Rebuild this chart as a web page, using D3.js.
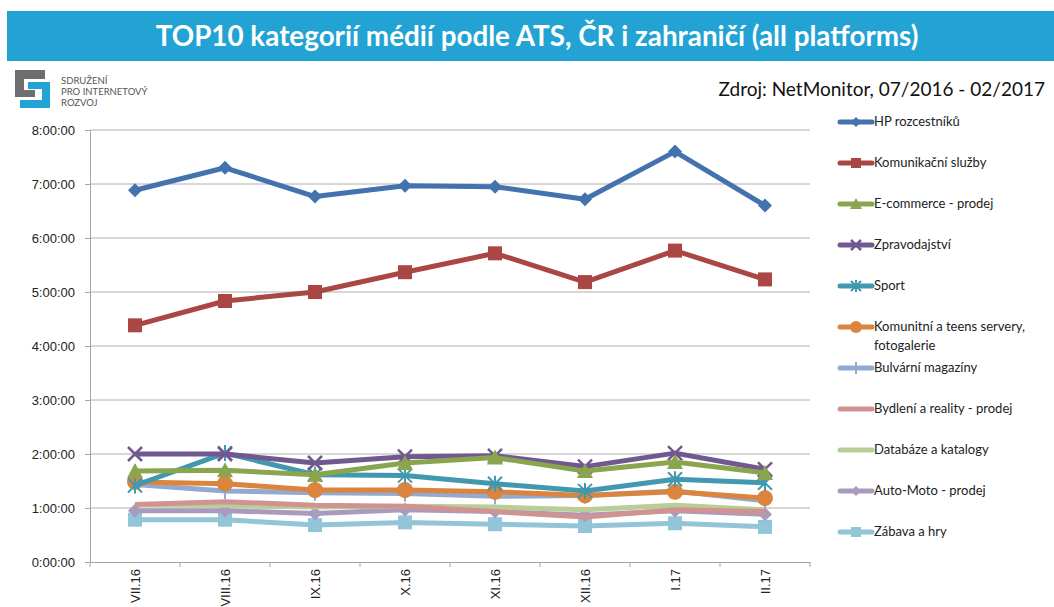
<!DOCTYPE html>
<html>
<head>
  <meta charset="utf-8">
  <title>TOP10 kategorií médií</title>
  <script src="https://d3js.org/d3.v7.min.js"></script>
  <style>
    body { margin: 0; background: #fff; }
    svg { display: block; }
  </style>
</head>
<body>
  <svg width="1054" height="607"></svg>
  <script>
    // data: minutes per month (ATS)
    const months = ["VII.16", "VIII.16", "IX.16", "X.16", "XI.16", "XII.16", "I.17", "II.17"];
    const hpRozcestniku = [413, 438, 406, 418, 417, 403, 456, 396];
    const komunikacni = [263, 290, 300, 322, 343, 311, 346, 314];
    const ecommerce = [101, 102, 97, 110, 116, 101, 111, 99];
    const zpravodajstvi = [120, 120, 110, 117, 118, 106, 121, 103];
    const sport = [85, 121, 97, 96, 87, 79, 92, 88];
    const komunitni = [89, 87, 80, 80, 78, 74, 78, 71];
    const bulvarni = [86, 79, 77, 76, 73, 74, 79, 68];
    const bydleni = [64, 67, 63, 62, 56, 50, 58, 56];
    const databaze = [64, 63, 61, 62, 61, 58, 63, 58];
    const autoMoto = [57, 57, 54, 58, 56, 52, 57, 53];
    const zabava = [47, 47, 41, 44, 42, 40, 43, 39];
    const yTicks = [0, 60, 120, 180, 240, 300, 360, 420, 480];

    const series = [
      { name: "HP rozcestníků", values: hpRozcestniku, color: "#4472AF", marker: "diamond" },
      { name: "Komunikační služby", values: komunikacni, color: "#AA4643", marker: "square" },
      { name: "E-commerce - prodej", values: ecommerce, color: "#89A54E", marker: "triangle" },
      { name: "Zpravodajství", values: zpravodajstvi, color: "#71588F", marker: "x" },
      { name: "Sport", values: sport, color: "#4198AF", marker: "star" },
      { name: "Komunitní a teens servery,|fotogalerie", values: komunitni, color: "#DB843D", marker: "circle" },
      { name: "Bulvární magazíny", values: bulvarni, color: "#93A9CF", marker: "plus" },
      { name: "Bydlení a reality - prodej", values: bydleni, color: "#D19392", marker: "none" },
      { name: "Databáze a katalogy", values: databaze, color: "#B9CD96", marker: "none" },
      { name: "Auto-Moto - prodej", values: autoMoto, color: "#A99BBD", marker: "diamond" },
      { name: "Zábava a hry", values: zabava, color: "#92C5D8", marker: "square" }
    ];

    const svg = d3.select("svg");
    const font = "Lato, 'Open Sans', sans-serif";

    // title bar
    svg.append("rect").attr("x", 7).attr("y", 11).attr("width", 1047).attr("height", 50).attr("fill", "#22A3D3");
    svg.append("text").attr("x", 537).attr("y", 46).attr("text-anchor", "middle")
      .attr("fill", "#fff").attr("font-family", font).attr("font-weight", "bold").attr("font-size", 27.8)
      .text("TOP10 kategorií médií podle ATS, ČR i zahraničí (all platforms)");

    // logo
    const logo = svg.append("g").attr("transform", "translate(15,70)");
    logo.append("path").attr("fill", "#6d6e70").attr("d", "M0,0 H30 V9 H9 V20 H20 V27 H0 Z");
    logo.append("path").attr("fill", "#22A3D3").attr("d", "M13,12 H35 V38 H5 V30 H27 V19 H13 Z");
    ["SDRUŽENÍ", "PRO INTERNETOVÝ", "ROZVOJ"].forEach((t, i) => {
      svg.append("text").attr("x", 61).attr("y", 84 + i * 11).attr("font-family", font)
        .attr("font-size", 9.5).attr("fill", "#555").text(t);
    });

    svg.append("text").attr("x", 1045).attr("y", 96).attr("text-anchor", "end")
      .attr("font-family", font).attr("font-size", 19).attr("fill", "#111")
      .text("Zdroj: NetMonitor, 07/2016 - 02/2017");

    // scales
    const x = d3.scaleBand().domain(months).range([90, 810]);
    const y = d3.scaleLinear().domain([0, 480]).range([562, 130]);
    const fmt = m => Math.floor(m / 60) + ":" + String(m % 60).padStart(2, "0") + ":00";

    // grid
    svg.append("g").selectAll("line").data(yTicks.slice(1)).join("line")
      .attr("x1", 90).attr("x2", 810).attr("y1", d => y(d)).attr("y2", d => y(d))
      .attr("stroke", "#b0b0b0").attr("stroke-width", 1);

    const yAxis = svg.append("g").attr("transform", "translate(90,0)")
      .call(d3.axisLeft(y).tickValues(yTicks).tickFormat(fmt).tickSize(5).tickPadding(10));
    yAxis.select(".domain").attr("stroke", "#a6a6a6");
    yAxis.selectAll(".tick line").attr("stroke", "#a6a6a6");
    yAxis.selectAll("text").attr("font-family", "'Liberation Sans', Arial, sans-serif")
      .attr("font-size", 13).attr("fill", "#222");

    const xAxis = svg.append("g").attr("transform", "translate(0,562)")
      .call(d3.axisBottom(x).tickSize(0).tickSizeOuter(0));
    xAxis.select(".domain").attr("stroke", "#a6a6a6");
    xAxis.selectAll(".tick text")
      .attr("font-family", "'Liberation Sans', Arial, sans-serif").attr("font-size", 13).attr("fill", "#222")
      .attr("transform", "rotate(-90)").attr("text-anchor", "end").attr("x", -7).attr("y", 0).attr("dy", "0.35em");
    // boundary ticks between categories
    svg.append("g").selectAll("line").data(months.concat(["end"])).join("line")
      .attr("x1", (d, i) => 90 + i * x.step()).attr("x2", (d, i) => 90 + i * x.step())
      .attr("y1", 562).attr("y2", 567).attr("stroke", "#a6a6a6");

    // markers
    function drawMarker(g, type, color, s) {
      if (type === "diamond") g.append("path").attr("d", `M0,${-s} L${s},0 L0,${s} L${-s},0 Z`).attr("fill", color);
      else if (type === "square") g.append("rect").attr("x", -s).attr("y", -s).attr("width", 2 * s).attr("height", 2 * s).attr("fill", color);
      else if (type === "triangle") g.append("path").attr("d", `M0,${-s - 1} L${s + 1},${s} L${-s - 1},${s} Z`).attr("fill", color);
      else if (type === "circle") g.append("circle").attr("r", s + 1).attr("fill", color);
      else if (type === "x") g.append("path").attr("d", `M${-s},${-s} L${s},${s} M${-s},${s} L${s},${-s}`).attr("stroke", color).attr("stroke-width", 2.5);
      else if (type === "star") g.append("path").attr("d", `M${-s},${-s} L${s},${s} M${-s},${s} L${s},${-s} M0,${-s - 1} L0,${s + 1}`).attr("stroke", color).attr("stroke-width", 2);
      else if (type === "plus") g.append("path").attr("d", `M0,${-s - 1} L0,${s + 1}`).attr("stroke", color).attr("stroke-width", 2);
    }

    const line = d3.line().x((d, i) => x(months[i]) + x.bandwidth() / 2).y(d => y(d));
    const plot = svg.append("g");
    series.slice().reverse().forEach(s => {
      const g = plot.append("g");
      g.append("path").datum(s.values).attr("d", line).attr("fill", "none")
        .attr("stroke", s.color).attr("stroke-width", 5).attr("stroke-linejoin", "round");
      s.values.forEach((v, i) => {
        const m = g.append("g").attr("transform", `translate(${x(months[i]) + x.bandwidth() / 2},${y(v)})`);
        drawMarker(m, s.marker, s.color, 7);
      });
    });

    // legend
    const legend = svg.append("g");
    series.forEach((s, i) => {
      const ly = 122 + i * 41;
      const g = legend.append("g");
      g.append("line").attr("x1", 840).attr("x2", 872).attr("y1", ly).attr("y2", ly)
        .attr("stroke", s.color).attr("stroke-width", 5).attr("stroke-linecap", "round");
      const m = g.append("g").attr("transform", `translate(856,${ly})`);
      drawMarker(m, s.marker, s.color, 5);
      s.name.split("|").forEach((t, j) => {
        g.append("text").attr("x", 874).attr("y", ly + 4 + j * 19).attr("font-family", font)
          .attr("font-size", 13).attr("fill", "#222").text(t);
      });
    });
  </script>
</body>
</html>
